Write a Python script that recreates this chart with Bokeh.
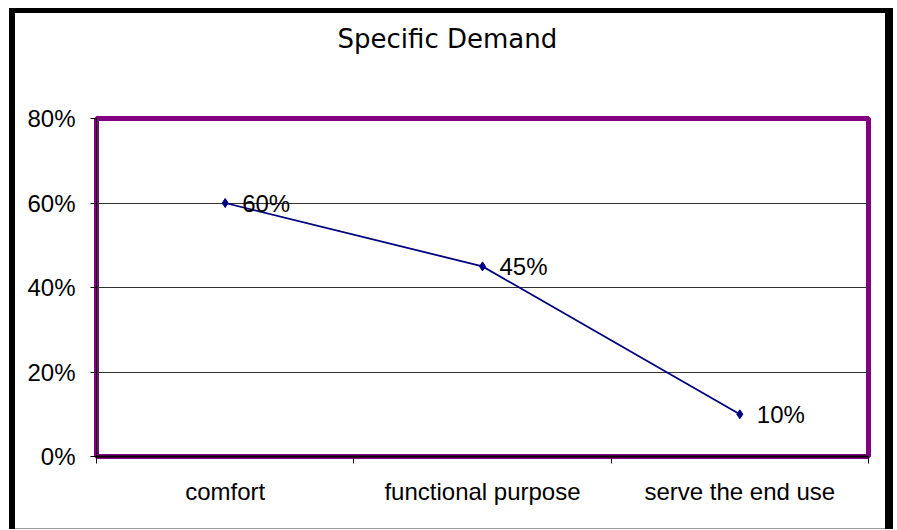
from bokeh.plotting import figure
from bokeh.models import (Range1d, FixedTicker, NumeralTickFormatter,
                          ColumnDataSource, LabelSet, Title)
from bokeh.core.properties import value
from bokeh.embed import file_html
from bokeh.resources import INLINE

# ---- data ----
categories = ["comfort", "functional purpose", "serve the end use"]
values = [0.60, 0.45, 0.10]
value_labels = ["60%", "45%", "10%"]
y_ticks = [0.0, 0.2, 0.4, 0.6, 0.8]
title_text = "Specific Demand"

W, H = 897, 530
FRAME_LEFT, FRAME_TOP, FRAME_RIGHT, FRAME_BOTTOM = 96, 118, 868, 456
xs = [i + 0.5 for i in range(len(categories))]

p = figure(width=W, height=H, output_backend="svg", toolbar_location=None,
           x_range=Range1d(0, len(categories)), y_range=Range1d(0, 0.8),
           min_border_left=FRAME_LEFT, min_border_right=W - FRAME_RIGHT,
           min_border_top=FRAME_TOP, min_border_bottom=H - FRAME_BOTTOM)
p.background_fill_color = "white"
p.border_fill_color = None
p.outline_line_color = "#800080"
p.outline_line_width = 5

# outer chart border (drawn by the host element behind the transparent canvas border)
p.styles = {
    "background-color": "white",
    "box-shadow": ("inset 9px 0 0 0 white, inset 0 8px 0 0 white, "
                   "inset -4px 0 0 0 white, inset 0 -1px 0 0 white, "
                   "inset 15px 0 0 0 black, inset 0 13px 0 0 black, "
                   "inset -12px 0 0 0 black, inset 0 -2px 0 0 #9a9a9a"),
}

# spacer between frame and title (pushes title up)
p.add_layout(Title(text=" ", text_font_size="1px", standoff=62), "above")

# title
p.title.text = title_text
p.title.align = "left"
p.title.offset = 241
p.title.text_font = "DejaVu Sans"
p.title.text_font_size = "26px"
p.title.text_font_style = "normal"
p.title.text_color = "black"
p.title.standoff = 0

# y axis
p.yaxis.ticker = FixedTicker(ticks=y_ticks)
p.yaxis.formatter = NumeralTickFormatter(format="0%")
p.yaxis.major_label_text_font = "Liberation Sans"
p.yaxis.major_label_text_font_size = "24px"
p.yaxis.major_label_text_color = "black"
p.yaxis.major_tick_out = 6
p.yaxis.major_tick_in = 0
p.yaxis.minor_tick_out = 0
p.yaxis.minor_tick_in = 0
p.yaxis.major_label_standoff = 15
p.yaxis.axis_line_color = "black"
p.yaxis.major_tick_line_color = "black"

# x axis
p.xaxis.ticker = FixedTicker(ticks=xs, minor_ticks=list(range(len(categories) + 1)))
p.xaxis.major_label_overrides = {x: c for x, c in zip(xs, categories)}
p.xaxis.major_label_text_font = "Liberation Sans"
p.xaxis.major_label_text_font_size = "24px"
p.xaxis.major_label_text_color = "black"
p.xaxis.major_tick_out = 0
p.xaxis.major_tick_in = 0
p.xaxis.minor_tick_out = 7
p.xaxis.minor_tick_in = 0
p.xaxis.minor_tick_line_color = "black"
p.xaxis.major_label_standoff = 14
p.xaxis.axis_line_color = "black"
p.xaxis.axis_line_width = 2

# grid
p.xgrid.grid_line_color = None
p.ygrid.ticker = FixedTicker(ticks=y_ticks)
p.ygrid.grid_line_color = "#333333"
p.ygrid.grid_line_width = 1

src = ColumnDataSource(dict(x=xs, y=values, lab=value_labels))
p.line("x", "y", source=src, line_color="#000080", line_width=1.8)
p.scatter("x", "y", source=src, marker="diamond", size=9, color="#000080")
p.add_layout(LabelSet(x="x", y="y", text="lab", source=src, x_offset=17,
                      text_font=value("Liberation Sans"), text_font_size=value("24px"),
                      text_baseline="middle", text_align="left", text_color="black"))

open("out.html", "w").write(file_html(p, INLINE))
